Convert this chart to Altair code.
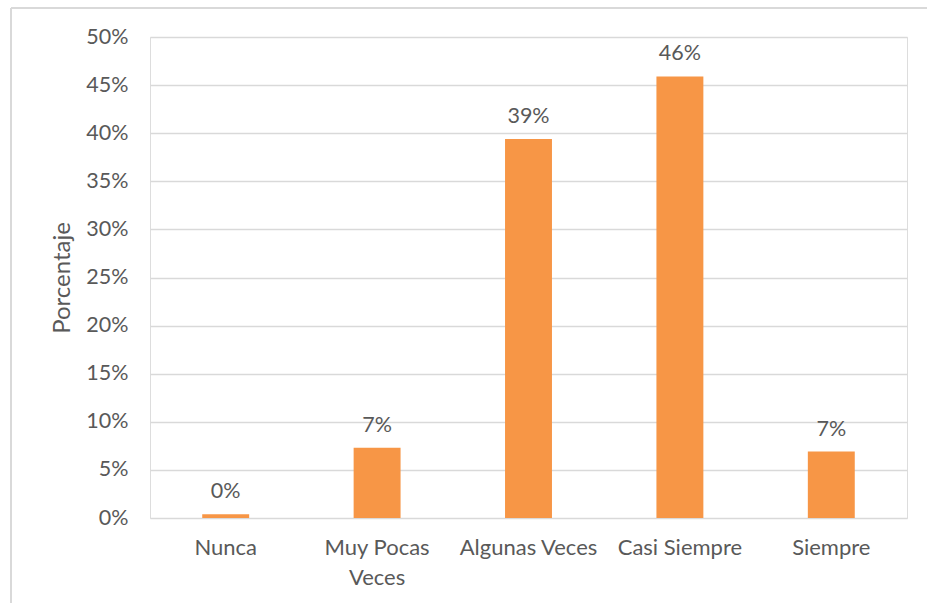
import altair as alt
import pandas as pd

categories = ["Nunca", "Muy Pocas Veces", "Algunas Veces", "Casi Siempre", "Siempre"]
values = [0.004, 0.073, 0.394, 0.459, 0.069]
labels = ["0%", "7%", "39%", "46%", "7%"]

df = pd.DataFrame({"cat": categories, "val": values, "lab": labels})

FONT = "Lato"
GRAY = "#595959"

x = alt.X("cat:N", sort=categories, title=None,
          scale=alt.Scale(paddingInner=0.69, paddingOuter=0.345),
          axis=alt.Axis(labelAngle=0, domain=False, ticks=False, labelPadding=19,
                        labelFontSize=22, labelColor=GRAY, labelFont=FONT,
                        labelLineHeight=30, labelLimit=300,
                        labelExpr="datum.label == 'Muy Pocas Veces' ? ['Muy Pocas', 'Veces'] : datum.label"))
y = alt.Y("val:Q", title="Porcentaje",
          scale=alt.Scale(domain=[0, 0.5], nice=False),
          axis=alt.Axis(format=".0%", values=[i / 100 for i in range(0, 55, 5)],
                        domain=False, ticks=False, labelPadding=22,
                        labelFontSize=21.5, labelColor=GRAY, labelFont=FONT,
                        titleFontSize=24, titleColor=GRAY, titleFont=FONT,
                        titleFontWeight="normal", titlePadding=11,
                        gridColor="#D9D9D9", gridWidth=1.3))

bars = alt.Chart(df).mark_bar(color="#F79646").encode(x=x, y=y)
text = alt.Chart(df).mark_text(font=FONT, fontSize=21.5, color=GRAY, dy=-16,
                               baseline="alphabetic").encode(x=x, y=y, text="lab:N")

border_top = alt.Chart(df).mark_rule(color="#D9D9D9", strokeWidth=2).encode(
    x=alt.value(-139), x2=alt.value(800), y=alt.value(-29))
border_left = alt.Chart(df).mark_rule(color="#D9D9D9", strokeWidth=2).encode(
    x=alt.value(-139), y=alt.value(-29), y2=alt.value(600))

chart = alt.layer(border_top, border_left, bars, text).properties(
    width=757, height=481,
    padding={"left": 150, "top": 37, "right": 20, "bottom": 85},
    autosize=alt.AutoSizeParams(type="none"),
).configure_view(stroke=None).configure(background="white")

chart.save("out.html", embed_options={"renderer": "svg", "actions": False})
